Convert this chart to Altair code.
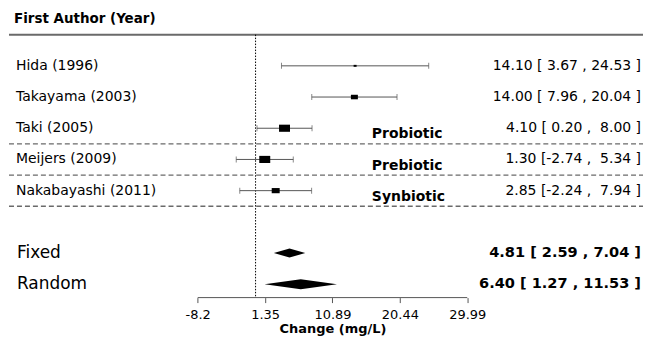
import altair as alt
import pandas as pd

# ---------------- data ----------------
studies = ["Hida (1996)", "Takayama (2003)", "Taki (2005)", "Meijers (2009)", "Nakabayashi (2011)"]
est = [14.10, 14.00, 4.10, 1.30, 2.85]
lower = [3.67, 7.96, 0.20, -2.74, -2.24]
upper = [24.53, 20.04, 8.00, 5.34, 7.94]

group_labels = ["Probiotic", "Prebiotic", "Synbiotic"]
group_studies = ["Taki (2005)", "Meijers (2009)", "Nakabayashi (2011)"]

models = ["Fixed", "Random"]
model_est = [4.81, 6.40]
model_lower = [2.59, 1.27]
model_upper = [7.04, 11.53]

axis_ticks = [-8.2, 1.35, 10.89, 20.44, 29.99]
axis_title = "Change (mg/L)"
column_title = "First Author (Year)"

# ---------------- layout / style ----------------
FONT = "DejaVu Sans"
W, H = 636, 290
PX_PER_UNIT = 7.08
FIRST_TICK_PX = 189.3
x_min = axis_ticks[0] - FIRST_TICK_PX / PX_PER_UNIT
x_max = x_min + W / PX_PER_UNIT
ROW0_PX, ROW_PX = 57.5, 31.3
y_min = -ROW0_PX / ROW_PX
y_max = (H - ROW0_PX) / ROW_PX
study_rows = [0, 1, 2, 3, 4]
model_rows = [6, 7]
title_row = -1.5
top_line_row = -1.0
dash_rows = [2.5, 3.5, 4.5]
group_offset = 0.2
box_px = [3, 7, 11, 11, 8]
diamond_half_px = [4.5, 5.0]
RIGHT_TEXT_PX = 634
GRAY = "#555555"
LINE_GRAY = "#6a6a6a"

xscale = alt.Scale(domain=[x_min, x_max], nice=False, zero=False)
yscale = alt.Scale(domain=[y_min, y_max], nice=False, zero=False, reverse=True)
xaxis = alt.Axis(
    values=axis_ticks, domain=False, grid=False, ticks=True, tickSize=5,
    tickColor=GRAY, tickWidth=1, labelFont=FONT, labelFontSize=13, labelColor="black",
    labelExpr="'' + datum.value", labelFlush=False, labelPadding=12, labelBaseline="middle",
    title=axis_title, titleFont=FONT, titleFontSize=13, titleFontWeight="bold",
    titleColor="black",
    titleX=((axis_ticks[0] + axis_ticks[-1]) / 2 - x_min) * PX_PER_UNIT,
    titleY=31, titleBaseline="middle", titleAlign="center",
)


def X(field=None, datum=None):
    if datum is not None:
        return alt.X(datum=datum, type="quantitative", scale=xscale, axis=xaxis)
    return alt.X(field, type="quantitative", scale=xscale, axis=xaxis)


def Y(field):
    return alt.Y(field, type="quantitative", scale=yscale, axis=None)


def fmt5(v):
    return f"{v:5.2f}"


df = pd.DataFrame({
    "study": studies, "est": est, "lower": lower, "upper": upper, "row": study_rows,
    "box": [b * b for b in box_px],
})
df["label"] = [
    f"{e:.2f} [{fmt5(l)} , {fmt5(u)} ]".replace(" ", "\u00a0")
    for e, l, u in zip(est, lower, upper)
]

caps = pd.DataFrame({
    "x": lower + upper,
    "row": study_rows + study_rows,
})

gdf = pd.DataFrame({
    "group": group_labels,
    "row": [study_rows[studies.index(s)] + group_offset for s in group_studies],
})

mdf = pd.DataFrame({"model": models, "row": model_rows})
mdf["label"] = [
    f"{e:.2f} [ {l:.2f} , {u:.2f} ]" for e, l, u in zip(model_est, model_lower, model_upper)
]

dia_rows = []
for m, r, e, l, u, hp in zip(models, model_rows, model_est, model_lower, model_upper, diamond_half_px):
    h = hp / ROW_PX
    dia_rows += [
        {"model": m, "x": l, "lo": r, "hi": r},
        {"model": m, "x": e, "lo": r - h, "hi": r + h},
        {"model": m, "x": u, "lo": r, "hi": r},
    ]
dia = pd.DataFrame(dia_rows)

top_df = pd.DataFrame({"row": [top_line_row]})
dash_df = pd.DataFrame({"row": dash_rows})
ref_df = pd.DataFrame({"x": [0.0], "top": [top_line_row], "bot": [y_max]})
axis_df = pd.DataFrame({"a": [axis_ticks[0]], "b": [axis_ticks[-1]], "row": [y_max]})
title_df = pd.DataFrame({"t": [column_title], "row": [title_row]})

top_line = alt.Chart(top_df).mark_rule(color=LINE_GRAY, strokeWidth=2).encode(
    x=alt.value(0), x2=alt.value(W), y=Y("row"))
dash_lines = alt.Chart(dash_df).mark_rule(color=LINE_GRAY, strokeWidth=1.3, strokeDash=[5, 3]).encode(
    x=alt.value(0), x2=alt.value(W), y=Y("row"))
ref_line = alt.Chart(ref_df).mark_rule(color="black", strokeWidth=1, strokeDash=[1.5, 1.5]).encode(
    x=X("x"), y=Y("top"), y2="bot")
axis_line = alt.Chart(axis_df).mark_rule(color=GRAY, strokeWidth=1).encode(
    x=X("a"), x2="b", y=Y("row"))

ci = alt.Chart(df).mark_rule(color=GRAY, strokeWidth=1).encode(
    x=X("lower"), x2="upper", y=Y("row"))
cap = alt.Chart(caps).mark_tick(color=GRAY, orient="vertical", size=6, thickness=1).encode(
    x=X("x"), y=Y("row"))
boxes = alt.Chart(df).mark_point(
    shape="M-1,-0.65L1,-0.65L1,0.65L-1,0.65Z", filled=True, color="black", opacity=1
).encode(x=X("est"), y=Y("row"), size=alt.Size("box:Q", scale=None, legend=None))
diamonds = alt.Chart(dia).mark_area(color="black", opacity=1).encode(
    x=X("x"), y=Y("lo"), y2="hi", detail="model:N")

study_text = alt.Chart(df).mark_text(
    align="left", baseline="middle", font=FONT, fontSize=14, color="black"
).encode(x=alt.value(7), y=Y("row"), text="study:N")
right_text = alt.Chart(df).mark_text(
    align="right", baseline="middle", font=FONT, fontSize=14, color="black"
).encode(x=alt.value(RIGHT_TEXT_PX), y=Y("row"), text="label:N")
group_text = alt.Chart(gdf).mark_text(
    align="left", baseline="middle", font=FONT, fontSize=14, fontWeight="bold", color="black"
).encode(x=alt.value(364), y=Y("row"), text="group:N")
model_text = alt.Chart(mdf).mark_text(
    align="left", baseline="middle", font=FONT, fontSize=17, color="black"
).encode(x=alt.value(8), y=Y("row"), text="model:N")
model_num = alt.Chart(mdf).mark_text(
    align="right", baseline="middle", font=FONT, fontSize=14.6, fontWeight="bold", color="black"
).encode(x=alt.value(RIGHT_TEXT_PX), y=Y("row"), text="label:N")
title_text = alt.Chart(title_df).mark_text(
    align="left", baseline="middle", font=FONT, fontSize=13.5, fontWeight="bold", color="black"
).encode(x=alt.value(5), y=Y("row"), text="t:N")

chart = alt.layer(
    top_line, dash_lines, ref_line, axis_line, ci, cap, boxes, diamonds,
    study_text, right_text, group_text, model_text, model_num, title_text,
).properties(
    width=W, height=H, padding=0, background="white"
).configure_view(stroke=None)

chart.save("out.html", embed_options={"renderer": "svg", "actions": False})
